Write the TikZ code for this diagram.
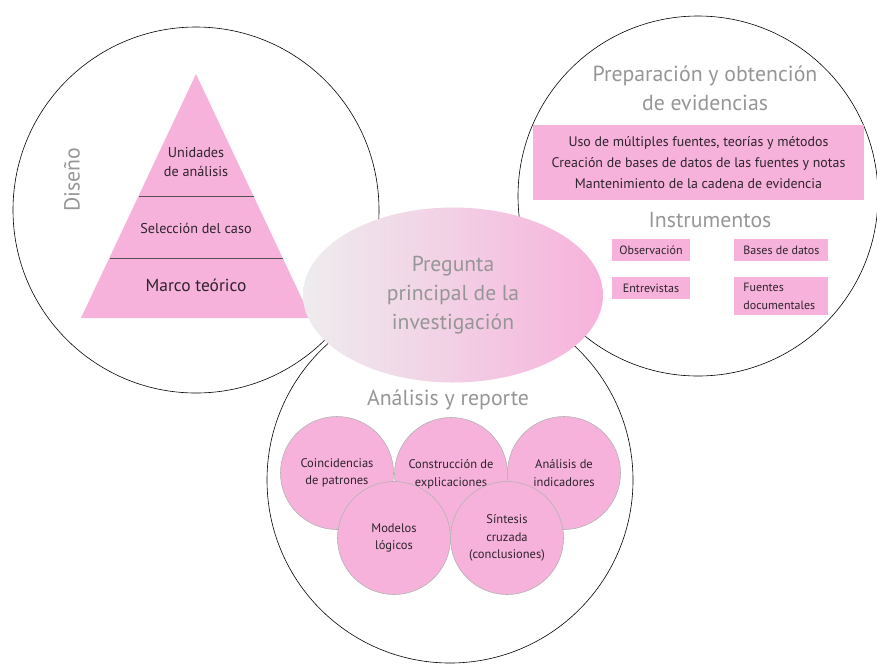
\documentclass[tikz,border=0pt]{standalone}
\usepackage{fontspec}
\setmainfont{PT Sans}
\usetikzlibrary{shapes.geometric,positioning}
\definecolor{rosa}{RGB}{247,178,219}
\definecolor{gristxt}{RGB}{150,150,150}
\definecolor{grisclaro}{RGB}{238,236,238}
\definecolor{tinta}{RGB}{45,35,45}

\begin{document}
\begin{tikzpicture}[x=1pt,y=-1pt]
\tikzstyle{fase}=[circle,draw=black,line width=0.6pt,minimum size=366pt,inner sep=0pt]
\tikzstyle{titulo}=[text=gristxt,font=\fontsize{21.8}{29}\selectfont,align=center]
\tikzstyle{nivel}=[text=tinta,font=\fontsize{14.2}{19}\selectfont,align=center]
\tikzstyle{caja}=[fill=rosa,text=tinta,font=\fontsize{12}{18}\selectfont,inner sep=0pt]
\tikzstyle{tecnica}=[circle,fill=rosa,draw=gray!60,line width=0.6pt,minimum size=113pt,inner sep=0pt,text=tinta,align=center,font=\fontsize{12.5}{17.5}\selectfont]
\useasboundingbox (0,0) rectangle (877,665);
% las tres fases
\node[fase] (diseno) at (196,210) {};
\node[fase,minimum size=360pt] (evidencia) at (698,196) {};
\node[fase] (analisis) at (450,480) {};
% piramide del diseno
\coordinate (cima) at (196,74);
\coordinate (baseder) at (311,318);
\coordinate (baseizq) at (81,318);
\fill[rosa] (cima) -- (baseder) -- (baseizq) -- cycle;
\draw[tinta!80,line width=0.9pt] (139,196) -- (254,196) (110,258) -- (283,258);
\node[nivel] (unidades) at (196,162) {Unidades\\de análisis};
\node[nivel] (seleccion) at (196,228) {Selección del caso};
\node[nivel,font=\fontsize{17.4}{20}\selectfont] (marco) at (196,285) {Marco teórico};
\node[titulo,rotate=90] (tdiseno) at (72,180) {Diseño};
% evidencias
\node[titulo] (tevidencia) at (705,88) {Preparación y obtención\\de evidencias};
\node[caja,minimum width=331pt,minimum height=75pt,align=center,font=\fontsize{13.9}{21}\selectfont] (principios) at (698.5,162.5)
  {Uso de múltiples fuentes, teorías y métodos\\Creación de bases de datos de las fuentes y notas\\Mantenimiento de la cadena de evidencia};
\node[titulo] (tinstrumentos) at (710,220) {Instrumentos};
\node[caja,minimum width=78pt,minimum height=22pt] (observacion) at (651,250) {Observación};
\node[caja,minimum width=94pt,minimum height=22pt,right=44pt of observacion] (bases) {Bases de datos};
\node[caja,minimum width=78pt,minimum height=22pt,below=16pt of observacion] (entrevistas) {Entrevistas};
\node[caja,minimum height=38pt,inner xsep=9pt,text width=76pt,align=left,below=16pt of bases] (fuentes) {Fuentes\\documentales};
% pregunta central
\node[ellipse,minimum width=300pt,minimum height=175pt,left color=grisclaro,right color=rosa,text=gristxt,align=center,font=\fontsize{21.6}{29}\selectfont] (pregunta) at (453,295)
  {Pregunta\\principal de la\\investigación};
% analisis
\node[titulo] (tanalisis) at (448,400) {Análisis y reporte};
\node[tecnica] (coincidencias) at (337,473) {Coincidencias\\de patrones};
\node[tecnica] (construccion) at (451,474) {Construcción de\\explicaciones};
\node[tecnica] (indicadores) at (564,473) {Análisis de\\indicadores};
\node[tecnica] (modelos) at (394,538) {Modelos\\lógicos};
\node[tecnica] (sintesis) at (507,538) {Síntesis\\cruzada\\(conclusiones)};
\end{tikzpicture}
\end{document}
